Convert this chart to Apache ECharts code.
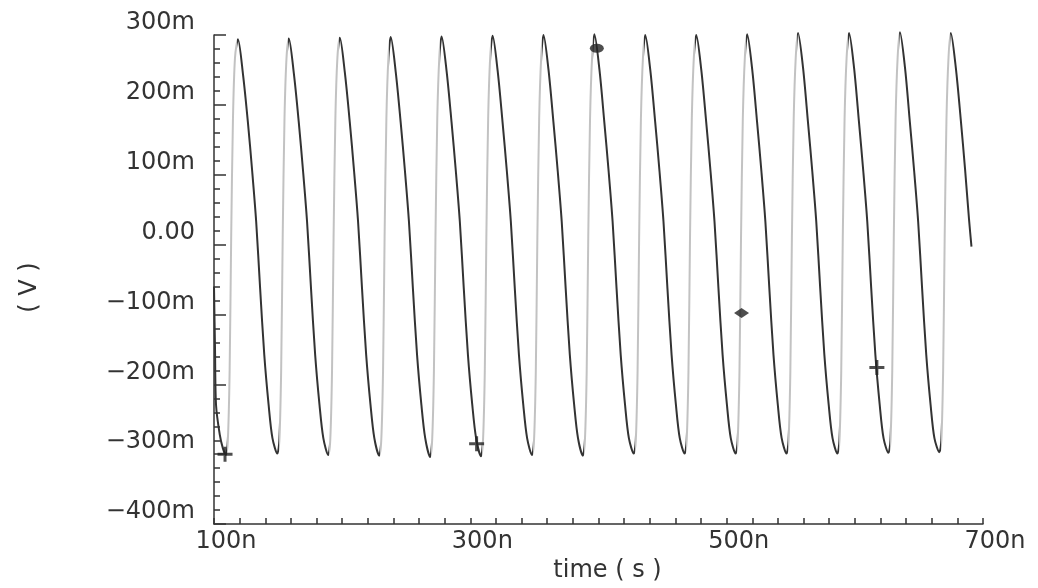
<!DOCTYPE html>
<html>
<head>
<meta charset="utf-8">
<script src="https://cdn.jsdelivr.net/npm/echarts@6/dist/echarts.min.js"></script>
<style>
	html, body { margin: 0; padding: 0; background: #fff; }
	#chart { width: 1038px; height: 588px; }
</style>
</head>
<body>
<div id="chart"></div>
<script>
// time in ns (one row per cycle)
var waveT = [
	100, 100.8, 101.6, 104.5, 107, 109.2, 110.8, 112.2, 113.4, 114.8, 116.4,
	118.7, 122.6, 126.4, 129.8, 132.9, 136.0, 139.2, 142.6, 145.6, 149.4, 151.0, 152.4, 153.6, 155.0, 156.6,
	158.4, 162.3, 166.1, 169.5, 172.6, 175.7, 178.9, 182.3, 185.3, 189.1, 190.7, 192.1, 193.3, 194.7, 196.3,
	198.2, 202.1, 205.9, 209.3, 212.4, 215.5, 218.7, 222.1, 225.1, 228.9, 230.5, 231.9, 233.1, 234.5, 236.1,
	237.9, 241.8, 245.6, 249.0, 252.1, 255.2, 258.4, 261.8, 264.8, 268.6, 270.2, 271.6, 272.8, 274.2, 275.8,
	277.6, 281.5, 285.3, 288.7, 291.8, 294.9, 298.1, 301.5, 304.5, 308.3, 309.9, 311.3, 312.5, 313.9, 315.5,
	317.4, 321.3, 325.1, 328.5, 331.6, 334.7, 337.9, 341.3, 344.3, 348.1, 349.7, 351.1, 352.3, 353.7, 355.3,
	357.1, 361.0, 364.8, 368.2, 371.3, 374.4, 377.6, 381.0, 384.0, 387.8, 389.4, 390.8, 392.0, 393.4, 395.0,
	396.8, 400.7, 404.5, 407.9, 411.0, 414.1, 417.3, 420.7, 423.7, 427.5, 429.1, 430.5, 431.7, 433.1, 434.7,
	436.5, 440.4, 444.2, 447.6, 450.7, 453.8, 457.0, 460.4, 463.4, 467.2, 468.8, 470.2, 471.4, 472.8, 474.4,
	476.3, 480.2, 484.0, 487.4, 490.5, 493.6, 496.8, 500.2, 503.2, 507.0, 508.6, 510.0, 511.2, 512.6, 514.2,
	516.0, 519.9, 523.7, 527.1, 530.2, 533.3, 536.5, 539.9, 542.9, 546.7, 548.3, 549.7, 550.9, 552.3, 553.9,
	555.7, 559.6, 563.4, 566.8, 569.9, 573.0, 576.2, 579.6, 582.6, 586.4, 588.0, 589.4, 590.6, 592.0, 593.6,
	595.5, 599.4, 603.2, 606.6, 609.7, 612.8, 616.0, 619.4, 622.4, 626.2, 627.8, 629.2, 630.4, 631.8, 633.4,
	635.2, 639.1, 642.9, 646.3, 649.4, 652.5, 655.7, 659.1, 662.1, 665.9, 667.5, 668.9, 670.1, 671.5, 673.1,
	674.9, 678.8, 682.6, 686.0, 689.1, 691.0
];
// voltage in mV, same order as waveT
var waveV = [
	-60, -150, -230, -272, -292, -301, -280, -180, 10, 180, 268,
	294, 244, 176, 105, 33, -63, -157, -229, -277, -299, -280, -180, 10, 180, 268,
	295, 245, 176, 105, 33, -63, -157, -229, -277, -301, -280, -180, 10, 180, 268,
	296, 246, 176, 105, 33, -63, -157, -229, -277, -302, -280, -180, 10, 180, 268,
	297, 247, 176, 105, 33, -63, -157, -229, -277, -304, -280, -180, 10, 180, 268,
	298, 248, 176, 105, 33, -63, -157, -229, -277, -303, -280, -180, 10, 180, 268,
	299, 249, 176, 105, 33, -63, -157, -229, -277, -301, -280, -180, 10, 180, 268,
	300, 250, 176, 105, 33, -63, -157, -229, -277, -302, -280, -180, 10, 180, 268,
	301, 251, 176, 105, 33, -63, -157, -229, -277, -299, -280, -180, 10, 180, 268,
	300, 250, 176, 105, 33, -63, -157, -229, -277, -299, -280, -180, 10, 180, 268,
	300, 250, 176, 105, 33, -63, -157, -229, -277, -299, -280, -180, 10, 180, 268,
	301, 251, 176, 105, 33, -63, -157, -229, -277, -299, -280, -180, 10, 180, 268,
	303, 253, 176, 105, 33, -63, -157, -229, -277, -299, -280, -180, 10, 180, 268,
	303, 253, 176, 105, 33, -63, -157, -229, -277, -298, -280, -180, 10, 180, 268,
	304, 254, 176, 105, 33, -63, -157, -229, -277, -297, -280, -180, 10, 180, 268,
	303, 253, 180, 108, 36, -3
];

// rising edges print faint on the plot: trough -> next peak
var troughT = [109.2, 149.4, 189.1, 228.9, 268.6, 308.3, 348.1, 387.8, 427.5, 467.2, 507.0, 546.7, 586.4, 626.2, 665.9];
var peakT = [118.7, 158.4, 198.2, 237.9, 277.6, 317.4, 357.1, 396.8, 436.5, 476.3, 516.0, 555.7, 595.5, 635.2, 674.9];

// cursor markers on the trace [ns, mV]
var markerT = [108.6, 304.9, 398.7, 511.6, 617.2];
var markerV = [-300, -285, 281, -98, -176];
var markerShape = ['plus', 'plus', 'oval', 'diamond', 'plus'];

var xLabelTicks = [100, 300, 500, 700];

var INK = '#333333';
var FAINT = '#c2c2c2';
var FONT = 'DejaVu Sans';

function fmtVolt(v) {
	if (v === 0) return '0.00';
	return (v < 0 ? '\u2212' : '') + Math.abs(v) + 'm';
}

function fmtTime(v) {
	return xLabelTicks.indexOf(v) >= 0 ? v + 'n' : '';
}

function renderWave() {
	var myChart = echarts.init(document.getElementById('chart'));

	var lineData = [];
	for (var i = 0; i < waveT.length; i++) {
		lineData.push([waveT[i], waveV[i]]);
	}

	var pieces = [];
	for (var j = 0; j < troughT.length; j++) {
		pieces.push({ gte: troughT[j] + 1, lt: peakT[j] - 1, color: FAINT });
	}

	var plusPath = 'path://M4,0H6V4H10V6H6V10H4V6H0V4H4Z';
	var markerData = [];
	for (var k = 0; k < markerT.length; k++) {
		var item = { value: [markerT[k], markerV[k]] };
		if (markerShape[k] == 'plus') {
			item.symbol = plusPath;
			item.symbolSize = 15;
		} else if (markerShape[k] == 'oval') {
			item.symbol = 'circle';
			item.symbolSize = [14, 9];
		} else {
			item.symbol = 'diamond';
			item.symbolSize = [15, 10];
		}
		markerData.push(item);
	}

	myChart.setOption({
		animation: false,
		backgroundColor: '#ffffff',
		grid: {
			left: 214,
			right: 55,
			top: 35,
			bottom: 63
		},
		xAxis: {
			type: 'value',
			min: 100,
			max: 700,
			interval: 20,
			name: 'time ( s )',
			nameLocation: 'middle',
			nameGap: 34,
			nameTextStyle: {
				color: INK,
				fontFamily: FONT,
				fontSize: 24,
				padding: [0, 0, 0, 18]
			},
			axisLine: {
				onZero: false,
				lineStyle: { color: INK, width: 1.5 }
			},
			axisTick: {
				inside: true,
				length: 6,
				lineStyle: { color: INK, width: 1.5 }
			},
			splitLine: { show: false },
			axisLabel: {
				formatter: fmtTime,
				color: INK,
				fontFamily: FONT,
				fontSize: 24,
				margin: 6,
				padding: [0, 0, 0, 24]
			}
		},
		yAxis: {
			type: 'value',
			min: -400,
			max: 300,
			interval: 100,
			name: '( V )',
			nameLocation: 'middle',
			nameGap: 172,
			nameTextStyle: {
				color: INK,
				fontFamily: FONT,
				fontSize: 24,
				padding: [0, 16, 0, 0]
			},
			axisLine: {
				show: true,
				onZero: false,
				lineStyle: { color: INK, width: 1.5 }
			},
			axisTick: {
				inside: true,
				length: 12,
				lineStyle: { color: INK, width: 1.5 }
			},
			minorTick: {
				show: true,
				splitNumber: 5,
				length: 6,
				lineStyle: { color: INK, width: 1.5 }
			},
			splitLine: { show: false },
			axisLabel: {
				formatter: fmtVolt,
				color: INK,
				fontFamily: FONT,
				fontSize: 24,
				margin: 19,
				verticalAlign: 'bottom'
			}
		},
		visualMap: {
			show: false,
			type: 'piecewise',
			seriesIndex: 0,
			dimension: 0,
			pieces: pieces,
			outOfRange: { color: INK }
		},
		series: [{
				name: 'V',
				type: 'line',
				data: lineData,
				smooth: 0.3,
				showSymbol: false,
				symbol: 'none',
				clip: false,
				lineStyle: { width: 2 }
			},
			{
				name: 'markers',
				type: 'scatter',
				data: markerData,
				itemStyle: { color: '#222222' },
				z: 5
			}
		]
	});
}

renderWave();
</script>
</body>
</html>
